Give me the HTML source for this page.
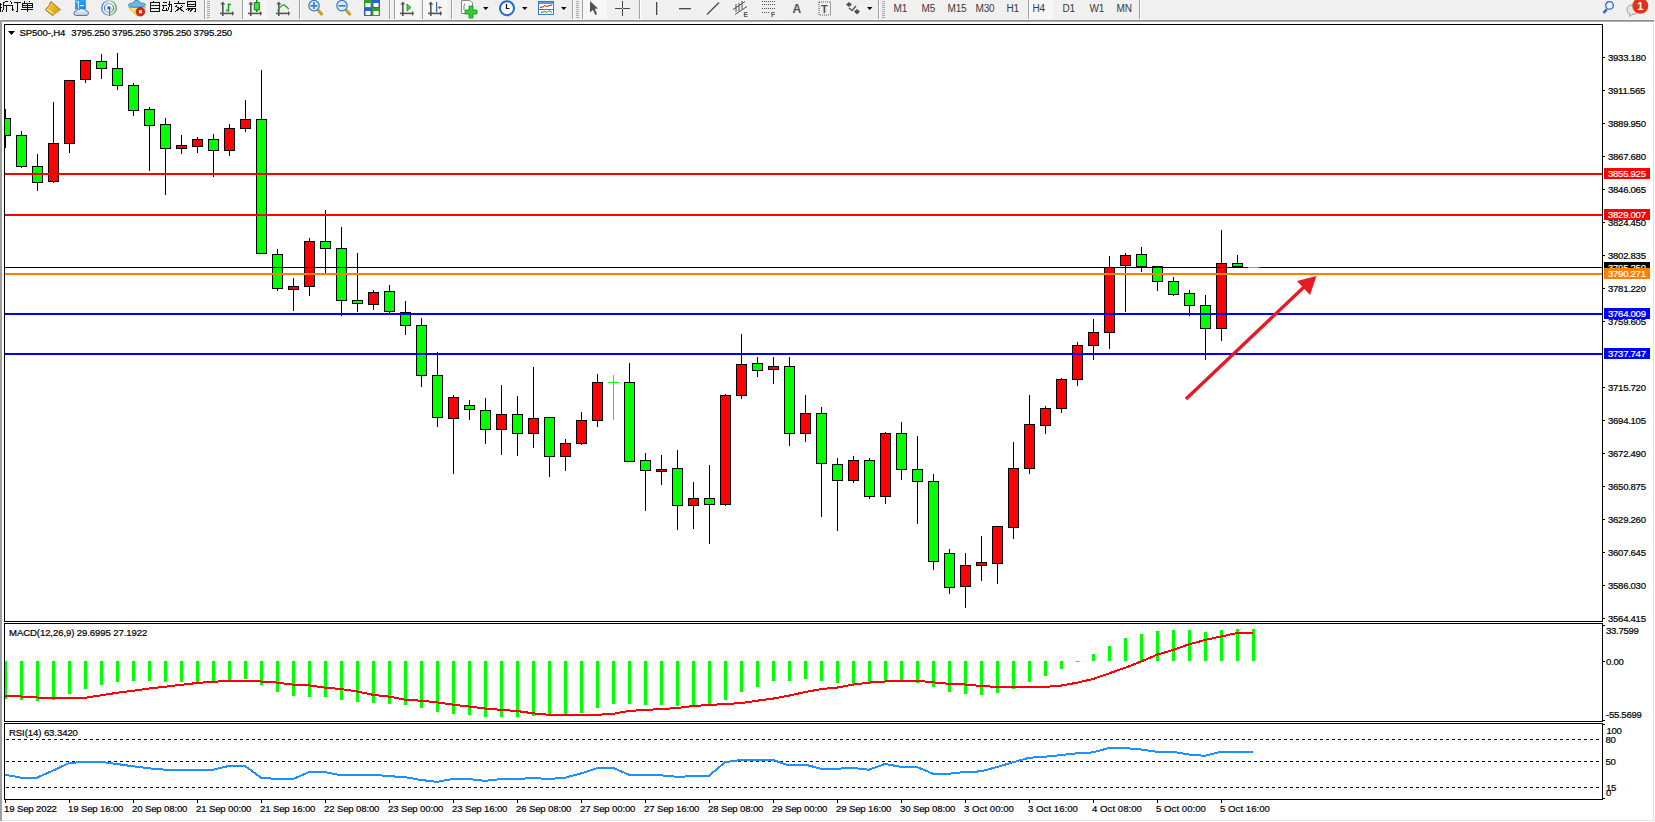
<!DOCTYPE html>
<html><head><meta charset="utf-8"><style>
html,body{margin:0;padding:0;background:#fff;width:1655px;height:822px;overflow:hidden}
svg{display:block}
text{font-family:"Liberation Sans", sans-serif}
</style></head><body>
<svg width="1655" height="822" viewBox="0 0 1655 822">
<rect x="0" y="0" width="1655" height="822" fill="#fff"/>
<rect x="0" y="0" width="1655" height="20" fill="#f0f0f0"/>
<rect x="0" y="19" width="1655" height="1" fill="#f4f4f4"/>
<rect x="0" y="20" width="1654" height="1" fill="#8c8c8c"/>
<rect x="0" y="21" width="1654" height="1" fill="#b0b0b0"/>
<g stroke="#101010" stroke-width="1" fill="none" shape-rendering="crispEdges"><path d="M0,4.5H2 M0,7.5H2 M0.5,3V12 M7.5,1L3.5,2.5 M3.5,2.5V8.5L2,12 M3.5,5.5H10.5 M6.5,5.5V12"/><path d="M10.5,1.5L12,3.5 M10.5,5.5H12.5V10.5L14,9 M14,2.5H21 M17.5,2.5V11.5H15.5"/><path d="M24,1L25,2.5 M29.5,1L28.5,2.5 M22.5,3.5H32 M22.5,5.5H32 M22.5,7.5H32 M22.5,3V8 M27,3V12 M32,3V8 M21,9.5H33"/></g>
<g stroke="#101010" stroke-width="1" fill="none" shape-rendering="crispEdges"><path d="M153.5,0.5V2 M150.5,2.5H159.5V11.5 M150.5,2V11.5H159.5 M150.5,5H159.5 M150.5,8H159.5"/><path d="M162.5,2.5H166.5 M162,5.5H167 M164,6L162.5,10.5H167 M166,8.5L167,10.5 M167.5,4.5H172 M171.5,4.5V11.5H170 M169.5,1V6L167.5,11.5"/><path d="M178.5,0.5V2.5 M173.5,3.5H185 M176.5,5.5L175,7 M181.5,5.5L183,7 M175,11.5L183,6.5 M176,6.5L184,11.5"/><path d="M187.5,1.5H195.5V6.5H187.5Z M187.5,4H195.5 M186.5,8H196 M188,8L186.5,10 M190,8.5L187.5,11.5 M193,8.5L190,11.5 M195.5,8V11.5H194"/></g>
<defs><linearGradient id="gb" x1="0" y1="0" x2="1" y2="1"><stop offset="0" stop-color="#f6dc60"/><stop offset="0.6" stop-color="#e2b010"/><stop offset="1" stop-color="#c89010"/></linearGradient><linearGradient id="gc" x1="0" y1="0" x2="0" y2="1"><stop offset="0" stop-color="#ffffff"/><stop offset="1" stop-color="#b8c4dc"/></linearGradient><linearGradient id="gd" x1="0" y1="0" x2="1" y2="1"><stop offset="0" stop-color="#40b0ff"/><stop offset="1" stop-color="#0a80e8"/></linearGradient></defs>
<g><polygon points="50.8,1.5 60.5,9.7 52.6,15.5 45.3,9.7 49,5.7" fill="url(#gb)" stroke="#9a6010" stroke-width="0.9" stroke-linejoin="round"/><polygon points="46.5,9.6 52.7,14.2 54,13.3 47.8,8.6" fill="#f3dc90"/><line x1="53.5" y1="14.8" x2="59.8" y2="10.2" stroke="#d8c890" stroke-width="0.9"/></g>
<g><rect x="75" y="0" width="10.8" height="9.5" fill="url(#gd)"/><line x1="78.5" y1="1" x2="78.5" y2="9" stroke="#e0f4ff" stroke-width="0.9"/><line x1="76" y1="1.5" x2="78.5" y2="3" stroke="#e0f4ff" stroke-width="0.8"/><rect x="80" y="5" width="4" height="1.2" fill="#e8f6ff"/><path d="M74,13.5 Q73.5,11 76.2,11 Q76.8,9.2 79,9.6 Q80.5,8.2 82.8,8.9 Q84.8,8.6 85.4,10.6 Q88.5,10.6 88.5,13 Q88.5,15.5 86,15.5 L76.2,15.5 Q74,15.5 74,13.5Z" fill="url(#gc)" stroke="#4a68a0" stroke-width="0.9"/></g>
<defs><linearGradient id="gr" x1="0" y1="0" x2="1" y2="0"><stop offset="0" stop-color="#3a6ad8"/><stop offset="0.55" stop-color="#a8c8c8"/><stop offset="1" stop-color="#3a9a50"/></linearGradient></defs>
<g fill="none"><path d="M109,8 L109,15.8 A7.8,7.8 0 0 0 116.8,8 Z" fill="#cfe8cc" stroke="none"/><circle cx="109" cy="8" r="7.3" stroke="url(#gr)" stroke-width="1.1"/><circle cx="109" cy="8" r="4.6" stroke="url(#gr)" stroke-width="1"/><circle cx="108.9" cy="7.9" r="1.7" fill="#2a5ad0"/><rect x="109" y="8" width="1.1" height="8" fill="#20a020"/></g>
<g><polygon points="128.5,7.3 145.5,7 141,14.5 136.8,15.8" fill="#f6e070" stroke="#d8a820" stroke-width="0.8"/><path d="M128.3,5.5 Q128.5,3 133,3.2 Q134,0 137,0.3 Q139.5,0.5 140.5,3 Q145.5,2.8 145.5,4.8 Q145,7.2 137,7.3 Q129,7.5 128.3,5.5Z" fill="#6ab8e8" stroke="#2a80b0" stroke-width="0.8"/><circle cx="140.4" cy="11.7" r="4.3" fill="#e0240c" stroke="#b01a08" stroke-width="0.8"/><rect x="139" y="10.2" width="3" height="3" fill="#fff"/></g>
<rect x="204" y="0" width="1" height="19" fill="#a0a0a0"/><rect x="205" y="0" width="1" height="19" fill="#fcfcfc"/>
<rect x="207" y="1" width="3" height="1" fill="#a8a8a8"/><rect x="207" y="3" width="3" height="1" fill="#a8a8a8"/><rect x="207" y="5" width="3" height="1" fill="#a8a8a8"/><rect x="207" y="7" width="3" height="1" fill="#a8a8a8"/><rect x="207" y="9" width="3" height="1" fill="#a8a8a8"/><rect x="207" y="11" width="3" height="1" fill="#a8a8a8"/><rect x="207" y="13" width="3" height="1" fill="#a8a8a8"/><rect x="207" y="15" width="3" height="1" fill="#a8a8a8"/><rect x="207" y="17" width="3" height="1" fill="#a8a8a8"/>
<g fill="#555"><rect x="222" y="3" width="1.6" height="13"/><polygon points="220.3,4.5 222.8,1.5 225.3,4.5"/><rect x="220" y="12.6" width="13" height="1.6"/><polygon points="232,10.8 234.2,13.4 232,16"/></g>
<path d="M228.5,3.5V11.5 M228.5,4.5H231 M226,10.5H228.5" stroke="#10a010" stroke-width="1.5" fill="none"/>
<rect x="242" y="0" width="1" height="19" fill="#a0a0a0"/><rect x="243" y="0" width="1" height="19" fill="#fcfcfc"/>
<rect x="243" y="0" width="24" height="19" fill="#f7f7f7"/>
<g fill="#555"><rect x="250" y="3" width="1.6" height="13"/><polygon points="248.3,4.5 250.8,1.5 253.3,4.5"/><rect x="248" y="12.6" width="13" height="1.6"/><polygon points="260,10.8 262.2,13.4 260,16"/></g>
<rect x="256" y="0" width="1.5" height="12" fill="#109010"/><rect x="254.3" y="2.5" width="5" height="7.5" fill="#40e040" stroke="#108010" stroke-width="1"/>
<g fill="#555"><rect x="278" y="3" width="1.6" height="13"/><polygon points="276.3,4.5 278.8,1.5 281.3,4.5"/><rect x="276" y="12.6" width="13" height="1.6"/><polygon points="288,10.8 290.2,13.4 288,16"/></g>
<path d="M277.5,10.5 Q283,3 285,5.5 L288.8,9" stroke="#30a030" stroke-width="1.3" fill="none"/>
<rect x="299" y="0" width="1" height="19" fill="#a0a0a0"/><rect x="300" y="0" width="1" height="19" fill="#fcfcfc"/>
<g><line x1="317.5" y1="9.5" x2="322.5" y2="15" stroke="#c8a020" stroke-width="3"/><circle cx="314" cy="5.7" r="5.2" fill="#d6eefa" stroke="#3a78c8" stroke-width="1.2"/><rect x="310.5" y="5" width="7" height="1.6" fill="#3a7ab0"/><rect x="313.2" y="2" width="1.6" height="7" fill="#3a7ab0"/></g>
<g><line x1="345.5" y1="9.5" x2="350.5" y2="15" stroke="#c8a020" stroke-width="3"/><circle cx="342" cy="5.7" r="5.2" fill="#d6eefa" stroke="#3a78c8" stroke-width="1.2"/><rect x="338.5" y="5" width="7" height="1.6" fill="#3a7ab0"/></g>
<g><rect x="364" y="0" width="8" height="8" fill="#30a020"/><rect x="372" y="0" width="8" height="8" fill="#2a60d0"/><rect x="364" y="8" width="8" height="8" fill="#2a60d0"/><rect x="372" y="8" width="8" height="8" fill="#30a020"/><rect x="365.5" y="3" width="5" height="4" fill="#fff"/><rect x="373.5" y="3" width="5" height="4" fill="#fff"/><rect x="365.5" y="11" width="5" height="4" fill="#fff"/><rect x="373.5" y="11" width="5" height="4" fill="#fff"/></g>
<rect x="389" y="0" width="1" height="19" fill="#a0a0a0"/><rect x="390" y="0" width="1" height="19" fill="#fcfcfc"/>
<rect x="394" y="0" width="1" height="19" fill="#a0a0a0"/><rect x="395" y="0" width="1" height="19" fill="#fcfcfc"/>
<rect x="395" y="0" width="25" height="19" fill="#f7f7f7"/>
<g fill="#555"><rect x="402" y="3" width="1.6" height="13"/><polygon points="400.3,4.5 402.8,1.5 405.3,4.5"/><rect x="400" y="12.6" width="13" height="1.6"/><polygon points="412,10.8 414.2,13.4 412,16"/></g>
<polygon points="407,4 411,7.5 407,11" fill="#40d040" stroke="#109010" stroke-width="0.8"/>
<rect x="422" y="0" width="1" height="19" fill="#a0a0a0"/><rect x="423" y="0" width="1" height="19" fill="#fcfcfc"/>
<rect x="423" y="0" width="24" height="19" fill="#f7f7f7"/>
<g fill="#555"><rect x="430" y="3" width="1.6" height="13"/><polygon points="428.3,4.5 430.8,1.5 433.3,4.5"/><rect x="428" y="12.6" width="13" height="1.6"/><polygon points="440,10.8 442.2,13.4 440,16"/></g>
<rect x="436" y="2" width="1.2" height="10" fill="#1a70b0"/><polygon points="437.5,7.5 440.5,5.5 440,7 442,7 442,8 440,8 440.5,9.5" fill="#e04010"/>
<rect x="451" y="0" width="1" height="19" fill="#a0a0a0"/><rect x="452" y="0" width="1" height="19" fill="#fcfcfc"/>
<g><path d="M461.5,0.5H470L472.5,3V13.5H461.5Z" fill="#fff" stroke="#888" stroke-width="1"/><path d="M465,3.5Q463.5,5 464,10" stroke="#555" stroke-width="0.8" fill="none"/><path d="M469,6H473V10H477V14H473V18H469V14H465V10H469Z" fill="#30d030" stroke="#109010" stroke-width="0.8"/></g>
<polygon points="483,7 488.5,7 485.75,10" fill="#000"/>
<g><circle cx="507" cy="8.2" r="7" fill="#fff" stroke="#1a6ad0" stroke-width="2"/><path d="M506.5,4V8.5H509.5" stroke="#000" stroke-width="1.2" fill="none"/></g>
<polygon points="522,7 527.5,7 524.75,10" fill="#000"/>
<g><rect x="538.5" y="1.5" width="15" height="13" fill="#fff" stroke="#3a78c8" stroke-width="1"/><rect x="539" y="2" width="14" height="2" fill="#5a98d8"/><rect x="539" y="9" width="14" height="1" fill="#3a78c8"/><path d="M540,7.5L543,7 545,5.5 547,6.5 550,5.5 552,5" stroke="#b02010" stroke-width="1" fill="none"/><path d="M541,12.5L543,12 545,11.5 547,12.5 549,10.5 552,12.5" stroke="#10a010" stroke-width="1" fill="none"/></g>
<polygon points="561,7 566.5,7 563.75,10" fill="#000"/>
<rect x="572" y="0" width="1" height="19" fill="#a0a0a0"/><rect x="573" y="0" width="1" height="19" fill="#fcfcfc"/>
<rect x="576" y="1" width="3" height="1" fill="#a8a8a8"/><rect x="576" y="3" width="3" height="1" fill="#a8a8a8"/><rect x="576" y="5" width="3" height="1" fill="#a8a8a8"/><rect x="576" y="7" width="3" height="1" fill="#a8a8a8"/><rect x="576" y="9" width="3" height="1" fill="#a8a8a8"/><rect x="576" y="11" width="3" height="1" fill="#a8a8a8"/><rect x="576" y="13" width="3" height="1" fill="#a8a8a8"/><rect x="576" y="15" width="3" height="1" fill="#a8a8a8"/><rect x="576" y="17" width="3" height="1" fill="#a8a8a8"/>
<rect x="582" y="0" width="1" height="19" fill="#a0a0a0"/><rect x="583" y="0" width="1" height="19" fill="#fcfcfc"/>
<rect x="583" y="0" width="24" height="19" fill="#f7f7f7"/>
<polygon points="590,1 598,8.5 594.8,8.8 597,14 595.2,15 593,9.8 590,12.5" fill="#505050"/>
<g fill="#484848"><rect x="615" y="8" width="7" height="1"/><rect x="623" y="8" width="7" height="1"/><rect x="622" y="1" width="1" height="7"/><rect x="622" y="9" width="1" height="7"/></g>
<rect x="639" y="0" width="1" height="19" fill="#a0a0a0"/><rect x="640" y="0" width="1" height="19" fill="#fcfcfc"/>
<rect x="656" y="2" width="1.3" height="13" fill="#484848"/>
<rect x="679" y="8" width="12" height="1.3" fill="#484848"/>
<line x1="707" y1="14.5" x2="719" y2="2.5" stroke="#484848" stroke-width="1.2"/>
<g stroke="#505050" stroke-width="1" fill="none"><path d="M733,9.5L745,1.5 M735,14.5L747,6.5 M736,4V12 M739,3V11 M742,1V9"/></g><text x="743.5" y="17" font-size="6.5" font-weight="bold" fill="#505050">E</text>
<g stroke="#505050" stroke-width="1" stroke-dasharray="1,1" fill="none"><path d="M762,1.5H775 M762,4.5H775 M762,8.5H775 M762,12.5H770"/></g><text x="771" y="17" font-size="6.5" font-weight="bold" fill="#505050">F</text>
<text x="792.5" y="12.6" font-size="12" font-weight="bold" fill="#505050">A</text>
<rect x="819" y="2" width="11.5" height="13" fill="none" stroke="#505050" stroke-width="1" stroke-dasharray="1,1"/><text x="821" y="12.5" font-size="11" font-weight="bold" fill="#505050">T</text>
<g fill="#505050"><polygon points="849,2 852,4.5 849,7 846,4.5"/><polygon points="857,9 860,11.5 857,14.5 854,11.5"/><path d="M849,8L852,10.5 856,6" stroke="#505050" stroke-width="1.3" fill="none"/></g>
<polygon points="867,7 872.5,7 869.75,10" fill="#000"/>
<rect x="878" y="0" width="1" height="19" fill="#a0a0a0"/><rect x="879" y="0" width="1" height="19" fill="#fcfcfc"/>
<rect x="882" y="1" width="3" height="1" fill="#a8a8a8"/><rect x="882" y="3" width="3" height="1" fill="#a8a8a8"/><rect x="882" y="5" width="3" height="1" fill="#a8a8a8"/><rect x="882" y="7" width="3" height="1" fill="#a8a8a8"/><rect x="882" y="9" width="3" height="1" fill="#a8a8a8"/><rect x="882" y="11" width="3" height="1" fill="#a8a8a8"/><rect x="882" y="13" width="3" height="1" fill="#a8a8a8"/><rect x="882" y="15" width="3" height="1" fill="#a8a8a8"/><rect x="882" y="17" width="3" height="1" fill="#a8a8a8"/>
<text x="893.5" y="12.3" font-size="10" fill="#3a3a3a" letter-spacing="-0.2">M1</text>
<text x="921.5" y="12.3" font-size="10" fill="#3a3a3a" letter-spacing="-0.2">M5</text>
<text x="947.5" y="12.3" font-size="10" fill="#3a3a3a" letter-spacing="-0.2">M15</text>
<text x="975.5" y="12.3" font-size="10" fill="#3a3a3a" letter-spacing="-0.2">M30</text>
<text x="1006.5" y="12.3" font-size="10" fill="#3a3a3a" letter-spacing="-0.2">H1</text>
<rect x="1029" y="0" width="24" height="19" fill="#f7f7f7"/>
<rect x="1028" y="0" width="1" height="19" fill="#a0a0a0"/><rect x="1029" y="0" width="1" height="19" fill="#fcfcfc"/>
<text x="1032.5" y="12.3" font-size="10" fill="#3a3a3a" letter-spacing="-0.2">H4</text>
<text x="1062.5" y="12.3" font-size="10" fill="#3a3a3a" letter-spacing="-0.2">D1</text>
<text x="1089.5" y="12.3" font-size="10" fill="#3a3a3a" letter-spacing="-0.2">W1</text>
<text x="1116.5" y="12.3" font-size="10" fill="#3a3a3a" letter-spacing="-0.2">MN</text>
<rect x="1139" y="0" width="1" height="19" fill="#a0a0a0"/><rect x="1140" y="0" width="1" height="19" fill="#fcfcfc"/>
<g><line x1="1603.5" y1="13" x2="1606.8" y2="9.3" stroke="#2a60d0" stroke-width="2.5"/><circle cx="1609.5" cy="5.4" r="3.8" fill="#f4f4ff" stroke="#2a60d0" stroke-width="1.3"/></g>
<g><path d="M1627,10 Q1627,5 1632,5 Q1638,5 1638,10 Q1638,14.5 1632,14.5 L1629.5,16.5 L1630,14 Q1627,13 1627,10Z" fill="#e4e4ec" stroke="#a0a0a0" stroke-width="1"/><circle cx="1640.3" cy="5.8" r="8" fill="#e0341a"/><text x="1640.3" y="10.3" font-size="11" font-weight="bold" fill="#fff" text-anchor="middle">1</text></g>
<rect x="0" y="20" width="2" height="801" fill="#a0a0a0"/>
<rect x="1653" y="22" width="1" height="799" fill="#e3e3e3"/>
<rect x="2" y="820" width="1652" height="1" fill="#e3e3e3"/>
<defs><clipPath id="cm"><rect x="5" y="25" width="1597" height="596"/></clipPath><clipPath id="cmacd"><rect x="5" y="624" width="1597" height="97"/></clipPath><clipPath id="crsi"><rect x="5" y="724" width="1597" height="75"/></clipPath></defs>
<g clip-path="url(#cm)" shape-rendering="crispEdges">
<rect x="5" y="109" width="1" height="39" fill="#000"/>
<rect x="0" y="118" width="11" height="18" fill="#000"/>
<rect x="1" y="119" width="9" height="16" fill="#00ff00"/>
<rect x="21" y="131" width="1" height="37" fill="#000"/>
<rect x="16" y="135" width="11" height="32" fill="#000"/>
<rect x="17" y="136" width="9" height="30" fill="#00ff00"/>
<rect x="37" y="154" width="1" height="37" fill="#000"/>
<rect x="32" y="166" width="11" height="17" fill="#000"/>
<rect x="33" y="167" width="9" height="15" fill="#00ff00"/>
<rect x="53" y="102" width="1" height="81" fill="#000"/>
<rect x="48" y="143" width="11" height="39" fill="#000"/>
<rect x="49" y="144" width="9" height="37" fill="#ff0000"/>
<rect x="69" y="80" width="1" height="73" fill="#000"/>
<rect x="64" y="80" width="11" height="64" fill="#000"/>
<rect x="65" y="81" width="9" height="62" fill="#ff0000"/>
<rect x="85" y="60" width="1" height="23" fill="#000"/>
<rect x="80" y="60" width="11" height="20" fill="#000"/>
<rect x="81" y="61" width="9" height="18" fill="#ff0000"/>
<rect x="101" y="54" width="1" height="25" fill="#000"/>
<rect x="96" y="61" width="11" height="8" fill="#000"/>
<rect x="97" y="62" width="9" height="6" fill="#00ff00"/>
<rect x="117" y="53" width="1" height="37" fill="#000"/>
<rect x="112" y="68" width="11" height="18" fill="#000"/>
<rect x="113" y="69" width="9" height="16" fill="#00ff00"/>
<rect x="133" y="83" width="1" height="33" fill="#000"/>
<rect x="128" y="85" width="11" height="26" fill="#000"/>
<rect x="129" y="86" width="9" height="24" fill="#00ff00"/>
<rect x="149" y="107" width="1" height="64" fill="#000"/>
<rect x="144" y="109" width="11" height="17" fill="#000"/>
<rect x="145" y="110" width="9" height="15" fill="#00ff00"/>
<rect x="165" y="118" width="1" height="77" fill="#000"/>
<rect x="160" y="124" width="11" height="25" fill="#000"/>
<rect x="161" y="125" width="9" height="23" fill="#00ff00"/>
<rect x="181" y="135" width="1" height="19" fill="#000"/>
<rect x="176" y="145" width="11" height="4" fill="#000"/>
<rect x="177" y="146" width="9" height="2" fill="#ff0000"/>
<rect x="197" y="137" width="1" height="16" fill="#000"/>
<rect x="192" y="139" width="11" height="8" fill="#000"/>
<rect x="193" y="140" width="9" height="6" fill="#ff0000"/>
<rect x="213" y="134" width="1" height="43" fill="#000"/>
<rect x="208" y="139" width="11" height="12" fill="#000"/>
<rect x="209" y="140" width="9" height="10" fill="#00ff00"/>
<rect x="229" y="124" width="1" height="32" fill="#000"/>
<rect x="224" y="128" width="11" height="23" fill="#000"/>
<rect x="225" y="129" width="9" height="21" fill="#ff0000"/>
<rect x="245" y="100" width="1" height="32" fill="#000"/>
<rect x="240" y="119" width="11" height="10" fill="#000"/>
<rect x="241" y="120" width="9" height="8" fill="#ff0000"/>
<rect x="261" y="70" width="1" height="184" fill="#000"/>
<rect x="256" y="119" width="11" height="135" fill="#000"/>
<rect x="257" y="120" width="9" height="133" fill="#00ff00"/>
<rect x="277" y="249" width="1" height="42" fill="#000"/>
<rect x="272" y="254" width="11" height="35" fill="#000"/>
<rect x="273" y="255" width="9" height="33" fill="#00ff00"/>
<rect x="293" y="278" width="1" height="33" fill="#000"/>
<rect x="288" y="286" width="11" height="4" fill="#000"/>
<rect x="289" y="287" width="9" height="2" fill="#ff0000"/>
<rect x="309" y="238" width="1" height="58" fill="#000"/>
<rect x="304" y="241" width="11" height="46" fill="#000"/>
<rect x="305" y="242" width="9" height="44" fill="#ff0000"/>
<rect x="325" y="210" width="1" height="63" fill="#000"/>
<rect x="320" y="241" width="11" height="8" fill="#000"/>
<rect x="321" y="242" width="9" height="6" fill="#00ff00"/>
<rect x="341" y="227" width="1" height="89" fill="#000"/>
<rect x="336" y="248" width="11" height="53" fill="#000"/>
<rect x="337" y="249" width="9" height="51" fill="#00ff00"/>
<rect x="357" y="253" width="1" height="59" fill="#000"/>
<rect x="352" y="300" width="11" height="4" fill="#000"/>
<rect x="353" y="301" width="9" height="2" fill="#00ff00"/>
<rect x="373" y="290" width="1" height="20" fill="#000"/>
<rect x="368" y="292" width="11" height="13" fill="#000"/>
<rect x="369" y="293" width="9" height="11" fill="#ff0000"/>
<rect x="389" y="285" width="1" height="29" fill="#000"/>
<rect x="384" y="291" width="11" height="21" fill="#000"/>
<rect x="385" y="292" width="9" height="19" fill="#00ff00"/>
<rect x="405" y="301" width="1" height="34" fill="#000"/>
<rect x="400" y="312" width="11" height="14" fill="#000"/>
<rect x="401" y="313" width="9" height="12" fill="#00ff00"/>
<rect x="421" y="318" width="1" height="69" fill="#000"/>
<rect x="416" y="325" width="11" height="51" fill="#000"/>
<rect x="417" y="326" width="9" height="49" fill="#00ff00"/>
<rect x="437" y="352" width="1" height="75" fill="#000"/>
<rect x="432" y="375" width="11" height="43" fill="#000"/>
<rect x="433" y="376" width="9" height="41" fill="#00ff00"/>
<rect x="453" y="395" width="1" height="79" fill="#000"/>
<rect x="448" y="397" width="11" height="22" fill="#000"/>
<rect x="449" y="398" width="9" height="20" fill="#ff0000"/>
<rect x="469" y="400" width="1" height="20" fill="#000"/>
<rect x="464" y="405" width="11" height="5" fill="#000"/>
<rect x="465" y="406" width="9" height="3" fill="#00ff00"/>
<rect x="485" y="398" width="1" height="46" fill="#000"/>
<rect x="480" y="410" width="11" height="20" fill="#000"/>
<rect x="481" y="411" width="9" height="18" fill="#00ff00"/>
<rect x="501" y="385" width="1" height="70" fill="#000"/>
<rect x="496" y="414" width="11" height="16" fill="#000"/>
<rect x="497" y="415" width="9" height="14" fill="#ff0000"/>
<rect x="517" y="396" width="1" height="60" fill="#000"/>
<rect x="512" y="414" width="11" height="20" fill="#000"/>
<rect x="513" y="415" width="9" height="18" fill="#00ff00"/>
<rect x="533" y="367" width="1" height="81" fill="#000"/>
<rect x="528" y="418" width="11" height="16" fill="#000"/>
<rect x="529" y="419" width="9" height="14" fill="#ff0000"/>
<rect x="549" y="417" width="1" height="60" fill="#000"/>
<rect x="544" y="417" width="11" height="40" fill="#000"/>
<rect x="545" y="418" width="9" height="38" fill="#00ff00"/>
<rect x="565" y="439" width="1" height="32" fill="#000"/>
<rect x="560" y="443" width="11" height="14" fill="#000"/>
<rect x="561" y="444" width="9" height="12" fill="#ff0000"/>
<rect x="581" y="412" width="1" height="33" fill="#000"/>
<rect x="576" y="420" width="11" height="24" fill="#000"/>
<rect x="577" y="421" width="9" height="22" fill="#ff0000"/>
<rect x="597" y="374" width="1" height="53" fill="#000"/>
<rect x="592" y="382" width="11" height="39" fill="#000"/>
<rect x="593" y="383" width="9" height="37" fill="#ff0000"/>
<rect x="613" y="375" width="1" height="45" fill="#00ff00"/>
<rect x="608" y="382" width="11" height="1" fill="#00ff00"/>
<rect x="629" y="363" width="1" height="99" fill="#000"/>
<rect x="624" y="382" width="11" height="80" fill="#000"/>
<rect x="625" y="383" width="9" height="78" fill="#00ff00"/>
<rect x="645" y="453" width="1" height="58" fill="#000"/>
<rect x="640" y="460" width="11" height="11" fill="#000"/>
<rect x="641" y="461" width="9" height="9" fill="#00ff00"/>
<rect x="661" y="455" width="1" height="30" fill="#000"/>
<rect x="656" y="469" width="11" height="3" fill="#000"/>
<rect x="657" y="470" width="9" height="1" fill="#ff0000"/>
<rect x="677" y="450" width="1" height="80" fill="#000"/>
<rect x="672" y="468" width="11" height="38" fill="#000"/>
<rect x="673" y="469" width="9" height="36" fill="#00ff00"/>
<rect x="693" y="482" width="1" height="47" fill="#000"/>
<rect x="688" y="498" width="11" height="8" fill="#000"/>
<rect x="689" y="499" width="9" height="6" fill="#ff0000"/>
<rect x="709" y="465" width="1" height="79" fill="#000"/>
<rect x="704" y="498" width="11" height="7" fill="#000"/>
<rect x="705" y="499" width="9" height="5" fill="#00ff00"/>
<rect x="725" y="394" width="1" height="112" fill="#000"/>
<rect x="720" y="395" width="11" height="110" fill="#000"/>
<rect x="721" y="396" width="9" height="108" fill="#ff0000"/>
<rect x="741" y="334" width="1" height="65" fill="#000"/>
<rect x="736" y="364" width="11" height="32" fill="#000"/>
<rect x="737" y="365" width="9" height="30" fill="#ff0000"/>
<rect x="757" y="357" width="1" height="20" fill="#000"/>
<rect x="752" y="363" width="11" height="8" fill="#000"/>
<rect x="753" y="364" width="9" height="6" fill="#00ff00"/>
<rect x="773" y="357" width="1" height="27" fill="#000"/>
<rect x="768" y="366" width="11" height="4" fill="#000"/>
<rect x="769" y="367" width="9" height="2" fill="#ff0000"/>
<rect x="789" y="357" width="1" height="89" fill="#000"/>
<rect x="784" y="366" width="11" height="68" fill="#000"/>
<rect x="785" y="367" width="9" height="66" fill="#00ff00"/>
<rect x="805" y="395" width="1" height="47" fill="#000"/>
<rect x="800" y="413" width="11" height="21" fill="#000"/>
<rect x="801" y="414" width="9" height="19" fill="#ff0000"/>
<rect x="821" y="407" width="1" height="110" fill="#000"/>
<rect x="816" y="413" width="11" height="51" fill="#000"/>
<rect x="817" y="414" width="9" height="49" fill="#00ff00"/>
<rect x="837" y="458" width="1" height="73" fill="#000"/>
<rect x="832" y="464" width="11" height="17" fill="#000"/>
<rect x="833" y="465" width="9" height="15" fill="#00ff00"/>
<rect x="853" y="456" width="1" height="27" fill="#000"/>
<rect x="848" y="460" width="11" height="21" fill="#000"/>
<rect x="849" y="461" width="9" height="19" fill="#ff0000"/>
<rect x="869" y="458" width="1" height="41" fill="#000"/>
<rect x="864" y="460" width="11" height="37" fill="#000"/>
<rect x="865" y="461" width="9" height="35" fill="#00ff00"/>
<rect x="885" y="432" width="1" height="72" fill="#000"/>
<rect x="880" y="433" width="11" height="64" fill="#000"/>
<rect x="881" y="434" width="9" height="62" fill="#ff0000"/>
<rect x="901" y="422" width="1" height="58" fill="#000"/>
<rect x="896" y="433" width="11" height="37" fill="#000"/>
<rect x="897" y="434" width="9" height="35" fill="#00ff00"/>
<rect x="917" y="436" width="1" height="88" fill="#000"/>
<rect x="912" y="469" width="11" height="13" fill="#000"/>
<rect x="913" y="470" width="9" height="11" fill="#00ff00"/>
<rect x="933" y="474" width="1" height="96" fill="#000"/>
<rect x="928" y="481" width="11" height="81" fill="#000"/>
<rect x="929" y="482" width="9" height="79" fill="#00ff00"/>
<rect x="949" y="549" width="1" height="45" fill="#000"/>
<rect x="944" y="553" width="11" height="35" fill="#000"/>
<rect x="945" y="554" width="9" height="33" fill="#00ff00"/>
<rect x="965" y="553" width="1" height="55" fill="#000"/>
<rect x="960" y="565" width="11" height="22" fill="#000"/>
<rect x="961" y="566" width="9" height="20" fill="#ff0000"/>
<rect x="981" y="536" width="1" height="45" fill="#000"/>
<rect x="976" y="562" width="11" height="4" fill="#000"/>
<rect x="977" y="563" width="9" height="2" fill="#ff0000"/>
<rect x="997" y="526" width="1" height="58" fill="#000"/>
<rect x="992" y="526" width="11" height="38" fill="#000"/>
<rect x="993" y="527" width="9" height="36" fill="#ff0000"/>
<rect x="1013" y="442" width="1" height="97" fill="#000"/>
<rect x="1008" y="468" width="11" height="60" fill="#000"/>
<rect x="1009" y="469" width="9" height="58" fill="#ff0000"/>
<rect x="1029" y="395" width="1" height="79" fill="#000"/>
<rect x="1024" y="424" width="11" height="45" fill="#000"/>
<rect x="1025" y="425" width="9" height="43" fill="#ff0000"/>
<rect x="1045" y="406" width="1" height="28" fill="#000"/>
<rect x="1040" y="408" width="11" height="18" fill="#000"/>
<rect x="1041" y="409" width="9" height="16" fill="#ff0000"/>
<rect x="1061" y="378" width="1" height="35" fill="#000"/>
<rect x="1056" y="379" width="11" height="30" fill="#000"/>
<rect x="1057" y="380" width="9" height="28" fill="#ff0000"/>
<rect x="1077" y="342" width="1" height="44" fill="#000"/>
<rect x="1072" y="345" width="11" height="35" fill="#000"/>
<rect x="1073" y="346" width="9" height="33" fill="#ff0000"/>
<rect x="1093" y="319" width="1" height="41" fill="#000"/>
<rect x="1088" y="332" width="11" height="14" fill="#000"/>
<rect x="1089" y="333" width="9" height="12" fill="#ff0000"/>
<rect x="1109" y="256" width="1" height="93" fill="#000"/>
<rect x="1104" y="267" width="11" height="66" fill="#000"/>
<rect x="1105" y="268" width="9" height="64" fill="#ff0000"/>
<rect x="1125" y="253" width="1" height="59" fill="#000"/>
<rect x="1120" y="255" width="11" height="11" fill="#000"/>
<rect x="1121" y="256" width="9" height="9" fill="#ff0000"/>
<rect x="1141" y="247" width="1" height="25" fill="#000"/>
<rect x="1136" y="254" width="11" height="13" fill="#000"/>
<rect x="1137" y="255" width="9" height="11" fill="#00ff00"/>
<rect x="1157" y="266" width="1" height="25" fill="#000"/>
<rect x="1152" y="266" width="11" height="16" fill="#000"/>
<rect x="1153" y="267" width="9" height="14" fill="#00ff00"/>
<rect x="1173" y="277" width="1" height="19" fill="#000"/>
<rect x="1168" y="281" width="11" height="14" fill="#000"/>
<rect x="1169" y="282" width="9" height="12" fill="#00ff00"/>
<rect x="1189" y="290" width="1" height="26" fill="#000"/>
<rect x="1184" y="293" width="11" height="13" fill="#000"/>
<rect x="1185" y="294" width="9" height="11" fill="#00ff00"/>
<rect x="1205" y="295" width="1" height="65" fill="#000"/>
<rect x="1200" y="305" width="11" height="24" fill="#000"/>
<rect x="1201" y="306" width="9" height="22" fill="#00ff00"/>
<rect x="1221" y="230" width="1" height="111" fill="#000"/>
<rect x="1216" y="263" width="11" height="66" fill="#000"/>
<rect x="1217" y="264" width="9" height="64" fill="#ff0000"/>
<rect x="1237" y="255" width="1" height="12" fill="#000"/>
<rect x="1232" y="263" width="11" height="4" fill="#000"/>
<rect x="1233" y="264" width="9" height="2" fill="#00ff00"/>
<rect x="5" y="173" width="1597" height="2" fill="#ff0000"/>
<rect x="5" y="214" width="1597" height="2" fill="#ff0000"/>
<rect x="5" y="267" width="1597" height="1" fill="#000"/>
<rect x="5" y="273" width="1597" height="2" fill="#ff8000"/>
<rect x="5" y="313" width="1597" height="2" fill="#0000ff"/>
<rect x="5" y="353" width="1597" height="2" fill="#0000ff"/>
<rect x="1248" y="267" width="11" height="1" fill="#00ff00"/>
</g>
<g fill="#e31b23" stroke="none"><line x1="1186" y1="399" x2="1304" y2="287" stroke="#e31b23" stroke-width="3.3"/><polygon points="1316.5,276 1297,281 1310,295"/></g>
<g clip-path="url(#cmacd)" shape-rendering="crispEdges">
<rect x="4" y="661" width="3" height="38" fill="#00ff00"/>
<rect x="20" y="661" width="3" height="39" fill="#00ff00"/>
<rect x="36" y="661" width="3" height="40" fill="#00ff00"/>
<rect x="52" y="661" width="3" height="39" fill="#00ff00"/>
<rect x="68" y="661" width="3" height="33" fill="#00ff00"/>
<rect x="84" y="661" width="3" height="28" fill="#00ff00"/>
<rect x="100" y="661" width="3" height="24" fill="#00ff00"/>
<rect x="116" y="661" width="3" height="21" fill="#00ff00"/>
<rect x="132" y="661" width="3" height="20" fill="#00ff00"/>
<rect x="148" y="661" width="3" height="20" fill="#00ff00"/>
<rect x="164" y="661" width="3" height="21" fill="#00ff00"/>
<rect x="180" y="661" width="3" height="21" fill="#00ff00"/>
<rect x="196" y="661" width="3" height="21" fill="#00ff00"/>
<rect x="212" y="661" width="3" height="20" fill="#00ff00"/>
<rect x="228" y="661" width="3" height="19" fill="#00ff00"/>
<rect x="244" y="661" width="3" height="18" fill="#00ff00"/>
<rect x="260" y="661" width="3" height="24" fill="#00ff00"/>
<rect x="276" y="661" width="3" height="31" fill="#00ff00"/>
<rect x="292" y="661" width="3" height="35" fill="#00ff00"/>
<rect x="308" y="661" width="3" height="36" fill="#00ff00"/>
<rect x="324" y="661" width="3" height="36" fill="#00ff00"/>
<rect x="340" y="661" width="3" height="39" fill="#00ff00"/>
<rect x="356" y="661" width="3" height="41" fill="#00ff00"/>
<rect x="372" y="661" width="3" height="42" fill="#00ff00"/>
<rect x="388" y="661" width="3" height="43" fill="#00ff00"/>
<rect x="404" y="661" width="3" height="44" fill="#00ff00"/>
<rect x="420" y="661" width="3" height="47" fill="#00ff00"/>
<rect x="436" y="661" width="3" height="51" fill="#00ff00"/>
<rect x="452" y="661" width="3" height="53" fill="#00ff00"/>
<rect x="468" y="661" width="3" height="54" fill="#00ff00"/>
<rect x="484" y="661" width="3" height="56" fill="#00ff00"/>
<rect x="500" y="661" width="3" height="56" fill="#00ff00"/>
<rect x="516" y="661" width="3" height="56" fill="#00ff00"/>
<rect x="532" y="661" width="3" height="55" fill="#00ff00"/>
<rect x="548" y="661" width="3" height="54" fill="#00ff00"/>
<rect x="564" y="661" width="3" height="53" fill="#00ff00"/>
<rect x="580" y="661" width="3" height="52" fill="#00ff00"/>
<rect x="596" y="661" width="3" height="47" fill="#00ff00"/>
<rect x="612" y="661" width="3" height="43" fill="#00ff00"/>
<rect x="628" y="661" width="3" height="43" fill="#00ff00"/>
<rect x="644" y="661" width="3" height="44" fill="#00ff00"/>
<rect x="660" y="661" width="3" height="44" fill="#00ff00"/>
<rect x="676" y="661" width="3" height="45" fill="#00ff00"/>
<rect x="692" y="661" width="3" height="45" fill="#00ff00"/>
<rect x="708" y="661" width="3" height="44" fill="#00ff00"/>
<rect x="724" y="661" width="3" height="39" fill="#00ff00"/>
<rect x="740" y="661" width="3" height="31" fill="#00ff00"/>
<rect x="756" y="661" width="3" height="26" fill="#00ff00"/>
<rect x="772" y="661" width="3" height="20" fill="#00ff00"/>
<rect x="788" y="661" width="3" height="20" fill="#00ff00"/>
<rect x="804" y="661" width="3" height="18" fill="#00ff00"/>
<rect x="820" y="661" width="3" height="20" fill="#00ff00"/>
<rect x="836" y="661" width="3" height="22" fill="#00ff00"/>
<rect x="852" y="661" width="3" height="23" fill="#00ff00"/>
<rect x="868" y="661" width="3" height="23" fill="#00ff00"/>
<rect x="884" y="661" width="3" height="21" fill="#00ff00"/>
<rect x="900" y="661" width="3" height="20" fill="#00ff00"/>
<rect x="916" y="661" width="3" height="22" fill="#00ff00"/>
<rect x="932" y="661" width="3" height="26" fill="#00ff00"/>
<rect x="948" y="661" width="3" height="31" fill="#00ff00"/>
<rect x="964" y="661" width="3" height="33" fill="#00ff00"/>
<rect x="980" y="661" width="3" height="34" fill="#00ff00"/>
<rect x="996" y="661" width="3" height="32" fill="#00ff00"/>
<rect x="1012" y="661" width="3" height="28" fill="#00ff00"/>
<rect x="1028" y="661" width="3" height="21" fill="#00ff00"/>
<rect x="1044" y="661" width="3" height="15" fill="#00ff00"/>
<rect x="1060" y="661" width="3" height="8" fill="#00ff00"/>
<rect x="1076" y="661" width="3" height="1" fill="#00ff00"/>
<rect x="1092" y="654" width="3" height="7" fill="#00ff00"/>
<rect x="1108" y="646" width="3" height="15" fill="#00ff00"/>
<rect x="1124" y="638" width="3" height="23" fill="#00ff00"/>
<rect x="1140" y="634" width="3" height="27" fill="#00ff00"/>
<rect x="1156" y="631" width="3" height="30" fill="#00ff00"/>
<rect x="1172" y="630" width="3" height="31" fill="#00ff00"/>
<rect x="1188" y="630" width="3" height="31" fill="#00ff00"/>
<rect x="1204" y="632" width="3" height="29" fill="#00ff00"/>
<rect x="1220" y="630" width="3" height="31" fill="#00ff00"/>
<rect x="1236" y="629" width="3" height="32" fill="#00ff00"/>
<rect x="1252" y="629" width="3" height="32" fill="#00ff00"/>
<polyline points="5,695.8 21,696.5 37,697.5 53,697.8 69,697.8 85,697.8 101,695.3 117,692.8 133,690.8 149,688.5 165,686.7 181,684.8 197,683.0 213,681.7 229,681.1 245,680.7 261,681.5 277,682.6 293,684.6 309,685.3 325,687.6 341,689.0 357,691.4 373,694.8 389,696.6 405,699.7 421,700.7 437,702.4 453,704.7 469,706.5 485,708.5 501,709.8 517,711.0 533,713.3 549,714.8 565,715.2 581,715.2 597,714.8 613,713.8 629,711.0 645,709.8 661,709.2 677,708.0 693,706.0 709,705.0 725,704.0 741,703.1 757,700.7 773,698.6 789,695.6 805,692.1 821,689.1 837,687.6 853,684.6 869,682.6 885,681.5 901,680.8 917,680.8 933,682.3 949,683.8 965,684.5 981,686.0 997,686.9 1013,686.9 1029,686.9 1045,686.9 1061,685.6 1077,682.7 1093,679.0 1109,673.4 1125,667.8 1141,661.6 1157,654.7 1173,650.0 1189,644.3 1205,640.0 1221,636.5 1237,633.1 1253,633.1" fill="none" stroke="#ff0000" stroke-width="2"/>
</g>
<g clip-path="url(#crsi)" shape-rendering="crispEdges">
<line x1="6" y1="739.5" x2="1602" y2="739.5" stroke="#000" stroke-width="1" stroke-dasharray="3,3"/>
<line x1="6" y1="761.5" x2="1602" y2="761.5" stroke="#000" stroke-width="1" stroke-dasharray="3,3"/>
<line x1="6" y1="787.5" x2="1602" y2="787.5" stroke="#000" stroke-width="1" stroke-dasharray="3,3"/>
<polyline points="5,774.7 21,777.7 37,777.7 53,770.6 69,763.1 85,761.8 101,761.8 117,764.0 133,766.3 149,768.3 165,769.7 181,769.7 197,769.7 213,769.7 229,765.9 245,765.9 261,777.7 277,779.0 293,779.0 309,772.1 325,772.1 341,775.3 357,775.0 373,774.7 389,776.2 405,777.1 421,780.0 437,781.8 453,779.0 469,779.0 485,780.9 501,779.0 517,779.0 533,778.0 549,779.0 565,777.7 581,773.4 597,768.2 613,767.8 629,774.7 645,774.7 661,775.3 677,776.8 693,776.2 709,775.8 725,762.2 741,759.9 757,759.9 773,759.9 789,765.5 805,764.6 821,768.7 837,768.7 853,768.0 869,769.7 885,764.0 901,766.8 917,767.0 933,773.7 949,773.7 965,771.9 981,771.4 997,767.0 1013,762.3 1029,757.8 1045,756.7 1061,755.1 1077,753.3 1093,752.4 1109,748.0 1125,748.0 1141,749.5 1157,751.8 1173,751.8 1189,754.5 1205,755.8 1221,751.8 1237,751.8 1253,751.8" fill="none" stroke="#1e90ff" stroke-width="2"/>
</g>
<g shape-rendering="crispEdges" fill="#000">
<rect x="4" y="24" width="1599" height="1" fill="#000"/>
<rect x="4" y="24" width="1" height="598" fill="#000"/>
<rect x="1602" y="24" width="1" height="598" fill="#000"/>
<rect x="4" y="621" width="1599" height="1" fill="#000"/>
<rect x="4" y="623" width="1599" height="1" fill="#000"/>
<rect x="4" y="623" width="1" height="99" fill="#000"/>
<rect x="1602" y="623" width="1" height="99" fill="#000"/>
<rect x="4" y="721" width="1599" height="1" fill="#000"/>
<rect x="4" y="723" width="1599" height="1" fill="#000"/>
<rect x="4" y="723" width="1" height="77" fill="#000"/>
<rect x="1602" y="723" width="1" height="77" fill="#000"/>
<rect x="4" y="799" width="1599" height="1" fill="#000"/>
</g>
<g font-family='"Liberation Sans", sans-serif' letter-spacing="-0.45">
<rect x="1603" y="57" width="2" height="1" fill="#000"/>
<text x="1608" y="61" font-size="9.6" fill="#000" stroke="#000" stroke-width="0.2" letter-spacing="-0.29">3933.180</text>
<rect x="1603" y="90" width="2" height="1" fill="#000"/>
<text x="1608" y="94" font-size="9.6" fill="#000" stroke="#000" stroke-width="0.2" letter-spacing="-0.29">3911.565</text>
<rect x="1603" y="123" width="2" height="1" fill="#000"/>
<text x="1608" y="127" font-size="9.6" fill="#000" stroke="#000" stroke-width="0.2" letter-spacing="-0.29">3889.950</text>
<rect x="1603" y="156" width="2" height="1" fill="#000"/>
<text x="1608" y="160" font-size="9.6" fill="#000" stroke="#000" stroke-width="0.2" letter-spacing="-0.29">3867.680</text>
<rect x="1603" y="189" width="2" height="1" fill="#000"/>
<text x="1608" y="193" font-size="9.6" fill="#000" stroke="#000" stroke-width="0.2" letter-spacing="-0.29">3846.065</text>
<rect x="1603" y="222" width="2" height="1" fill="#000"/>
<text x="1608" y="226" font-size="9.6" fill="#000" stroke="#000" stroke-width="0.2" letter-spacing="-0.29">3824.450</text>
<rect x="1603" y="255" width="2" height="1" fill="#000"/>
<text x="1608" y="259" font-size="9.6" fill="#000" stroke="#000" stroke-width="0.2" letter-spacing="-0.29">3802.835</text>
<rect x="1603" y="288" width="2" height="1" fill="#000"/>
<text x="1608" y="292" font-size="9.6" fill="#000" stroke="#000" stroke-width="0.2" letter-spacing="-0.29">3781.220</text>
<rect x="1603" y="321" width="2" height="1" fill="#000"/>
<text x="1608" y="325" font-size="9.6" fill="#000" stroke="#000" stroke-width="0.2" letter-spacing="-0.29">3759.605</text>
<rect x="1603" y="387" width="2" height="1" fill="#000"/>
<text x="1608" y="391" font-size="9.6" fill="#000" stroke="#000" stroke-width="0.2" letter-spacing="-0.29">3715.720</text>
<rect x="1603" y="420" width="2" height="1" fill="#000"/>
<text x="1608" y="424" font-size="9.6" fill="#000" stroke="#000" stroke-width="0.2" letter-spacing="-0.29">3694.105</text>
<rect x="1603" y="453" width="2" height="1" fill="#000"/>
<text x="1608" y="457" font-size="9.6" fill="#000" stroke="#000" stroke-width="0.2" letter-spacing="-0.29">3672.490</text>
<rect x="1603" y="486" width="2" height="1" fill="#000"/>
<text x="1608" y="490" font-size="9.6" fill="#000" stroke="#000" stroke-width="0.2" letter-spacing="-0.29">3650.875</text>
<rect x="1603" y="519" width="2" height="1" fill="#000"/>
<text x="1608" y="523" font-size="9.6" fill="#000" stroke="#000" stroke-width="0.2" letter-spacing="-0.29">3629.260</text>
<rect x="1603" y="552" width="2" height="1" fill="#000"/>
<text x="1608" y="556" font-size="9.6" fill="#000" stroke="#000" stroke-width="0.2" letter-spacing="-0.29">3607.645</text>
<rect x="1603" y="585" width="2" height="1" fill="#000"/>
<text x="1608" y="589" font-size="9.6" fill="#000" stroke="#000" stroke-width="0.2" letter-spacing="-0.29">3586.030</text>
<rect x="1603" y="618" width="2" height="1" fill="#000"/>
<text x="1608" y="622" font-size="9.6" fill="#000" stroke="#000" stroke-width="0.2" letter-spacing="-0.29">3564.415</text>
<rect x="1604" y="168" width="46" height="11" fill="#ff0000"/>
<text x="1608" y="177" font-size="9.6" fill="#fff" stroke="#fff" stroke-width="0.2" letter-spacing="-0.29">3855.925</text>
<rect x="1604" y="209" width="46" height="11" fill="#ff0000"/>
<text x="1608" y="218" font-size="9.6" fill="#fff" stroke="#fff" stroke-width="0.2" letter-spacing="-0.29">3829.007</text>
<rect x="1604" y="262" width="46" height="11" fill="#000"/>
<text x="1608" y="271" font-size="9.6" fill="#fff" stroke="#fff" stroke-width="0.2" letter-spacing="-0.29">3795.250</text>
<rect x="1604" y="268" width="46" height="11" fill="#ff8000"/>
<text x="1608" y="277" font-size="9.6" fill="#fff" stroke="#fff" stroke-width="0.2" letter-spacing="-0.29">3790.271</text>
<rect x="1604" y="308" width="46" height="11" fill="#0000ff"/>
<text x="1608" y="317" font-size="9.6" fill="#fff" stroke="#fff" stroke-width="0.2" letter-spacing="-0.29">3764.009</text>
<rect x="1604" y="348" width="46" height="11" fill="#0000ff"/>
<text x="1608" y="357" font-size="9.6" fill="#fff" stroke="#fff" stroke-width="0.2" letter-spacing="-0.29">3737.747</text>
<rect x="1603" y="661" width="2" height="1" fill="#000"/>
<text x="1606" y="634" font-size="9.6" fill="#000" stroke="#000" stroke-width="0.2" letter-spacing="-0.29">33.7599</text>
<text x="1606" y="665" font-size="9.6" fill="#000" stroke="#000" stroke-width="0.2" letter-spacing="-0.29">0.00</text>
<text x="1606" y="718" font-size="9.6" fill="#000" stroke="#000" stroke-width="0.2" letter-spacing="-0.29">-55.5699</text>
<rect x="1603" y="625" width="2" height="1" fill="#000"/>
<rect x="1603" y="720" width="2" height="1" fill="#000"/>
<text x="1606.5" y="734" font-size="9.6" fill="#000" stroke="#000" stroke-width="0.2" letter-spacing="-0.29">100</text>
<text x="1605.5" y="743" font-size="9.6" fill="#000" stroke="#000" stroke-width="0.2" letter-spacing="-0.29">80</text>
<text x="1605.5" y="765" font-size="9.6" fill="#000" stroke="#000" stroke-width="0.2" letter-spacing="-0.29">50</text>
<text x="1606" y="791" font-size="9.6" fill="#000" stroke="#000" stroke-width="0.2" letter-spacing="-0.29">15</text>
<text x="1606" y="796" font-size="9.6" fill="#000" stroke="#000" stroke-width="0.2" letter-spacing="-0.29">0</text>
<rect x="1603" y="724" width="2" height="1" fill="#000"/>
<rect x="1603" y="798" width="2" height="1" fill="#000"/>
<rect x="5" y="800" width="1" height="3" fill="#000"/>
<text x="4" y="812" font-size="9.6" fill="#000" stroke="#000" stroke-width="0.2" textLength="52.5" lengthAdjust="spacing">19 Sep 2022</text>
<rect x="69" y="800" width="1" height="3" fill="#000"/>
<text x="68" y="812" font-size="9.6" fill="#000" stroke="#000" stroke-width="0.2" textLength="55" lengthAdjust="spacing">19 Sep 16:00</text>
<rect x="133" y="800" width="1" height="3" fill="#000"/>
<text x="132" y="812" font-size="9.6" fill="#000" stroke="#000" stroke-width="0.2" textLength="55" lengthAdjust="spacing">20 Sep 08:00</text>
<rect x="197" y="800" width="1" height="3" fill="#000"/>
<text x="196" y="812" font-size="9.6" fill="#000" stroke="#000" stroke-width="0.2" textLength="55" lengthAdjust="spacing">21 Sep 00:00</text>
<rect x="261" y="800" width="1" height="3" fill="#000"/>
<text x="260" y="812" font-size="9.6" fill="#000" stroke="#000" stroke-width="0.2" textLength="55" lengthAdjust="spacing">21 Sep 16:00</text>
<rect x="325" y="800" width="1" height="3" fill="#000"/>
<text x="324" y="812" font-size="9.6" fill="#000" stroke="#000" stroke-width="0.2" textLength="55" lengthAdjust="spacing">22 Sep 08:00</text>
<rect x="389" y="800" width="1" height="3" fill="#000"/>
<text x="388" y="812" font-size="9.6" fill="#000" stroke="#000" stroke-width="0.2" textLength="55" lengthAdjust="spacing">23 Sep 00:00</text>
<rect x="453" y="800" width="1" height="3" fill="#000"/>
<text x="452" y="812" font-size="9.6" fill="#000" stroke="#000" stroke-width="0.2" textLength="55" lengthAdjust="spacing">23 Sep 16:00</text>
<rect x="517" y="800" width="1" height="3" fill="#000"/>
<text x="516" y="812" font-size="9.6" fill="#000" stroke="#000" stroke-width="0.2" textLength="55" lengthAdjust="spacing">26 Sep 08:00</text>
<rect x="581" y="800" width="1" height="3" fill="#000"/>
<text x="580" y="812" font-size="9.6" fill="#000" stroke="#000" stroke-width="0.2" textLength="55" lengthAdjust="spacing">27 Sep 00:00</text>
<rect x="645" y="800" width="1" height="3" fill="#000"/>
<text x="644" y="812" font-size="9.6" fill="#000" stroke="#000" stroke-width="0.2" textLength="55" lengthAdjust="spacing">27 Sep 16:00</text>
<rect x="709" y="800" width="1" height="3" fill="#000"/>
<text x="708" y="812" font-size="9.6" fill="#000" stroke="#000" stroke-width="0.2" textLength="55" lengthAdjust="spacing">28 Sep 08:00</text>
<rect x="773" y="800" width="1" height="3" fill="#000"/>
<text x="772" y="812" font-size="9.6" fill="#000" stroke="#000" stroke-width="0.2" textLength="55" lengthAdjust="spacing">29 Sep 00:00</text>
<rect x="837" y="800" width="1" height="3" fill="#000"/>
<text x="836" y="812" font-size="9.6" fill="#000" stroke="#000" stroke-width="0.2" textLength="55" lengthAdjust="spacing">29 Sep 16:00</text>
<rect x="901" y="800" width="1" height="3" fill="#000"/>
<text x="900" y="812" font-size="9.6" fill="#000" stroke="#000" stroke-width="0.2" textLength="55" lengthAdjust="spacing">30 Sep 08:00</text>
<rect x="965" y="800" width="1" height="3" fill="#000"/>
<text x="964" y="812" font-size="9.6" fill="#000" stroke="#000" stroke-width="0.2" textLength="49.5" lengthAdjust="spacing">3 Oct 00:00</text>
<rect x="1029" y="800" width="1" height="3" fill="#000"/>
<text x="1028" y="812" font-size="9.6" fill="#000" stroke="#000" stroke-width="0.2" textLength="49.5" lengthAdjust="spacing">3 Oct 16:00</text>
<rect x="1093" y="800" width="1" height="3" fill="#000"/>
<text x="1092" y="812" font-size="9.6" fill="#000" stroke="#000" stroke-width="0.2" textLength="49.5" lengthAdjust="spacing">4 Oct 08:00</text>
<rect x="1157" y="800" width="1" height="3" fill="#000"/>
<text x="1156" y="812" font-size="9.6" fill="#000" stroke="#000" stroke-width="0.2" textLength="49.5" lengthAdjust="spacing">5 Oct 00:00</text>
<rect x="1221" y="800" width="1" height="3" fill="#000"/>
<text x="1220" y="812" font-size="9.6" fill="#000" stroke="#000" stroke-width="0.2" textLength="49.5" lengthAdjust="spacing">5 Oct 16:00</text>
<text x="19.5" y="36" font-size="9.6" fill="#000" stroke="#000" stroke-width="0.2" textLength="45.5" lengthAdjust="spacing">SP500-,H4</text>
<text x="71.3" y="36" font-size="9.6" fill="#000" stroke="#000" stroke-width="0.2" textLength="160.4" lengthAdjust="spacing">3795.250 3795.250 3795.250 3795.250</text>
<text x="9" y="636" font-size="9.6" fill="#000" stroke="#000" stroke-width="0.2" textLength="137.9" lengthAdjust="spacing">MACD(12,26,9) 29.6995 27.1922</text>
<text x="9" y="736" font-size="9.6" fill="#000" stroke="#000" stroke-width="0.2" textLength="68.5" lengthAdjust="spacing">RSI(14) 63.3420</text>
</g>
<polygon points="8,31 15,31 11.5,35" fill="#000"/>
</svg>
</body></html>
